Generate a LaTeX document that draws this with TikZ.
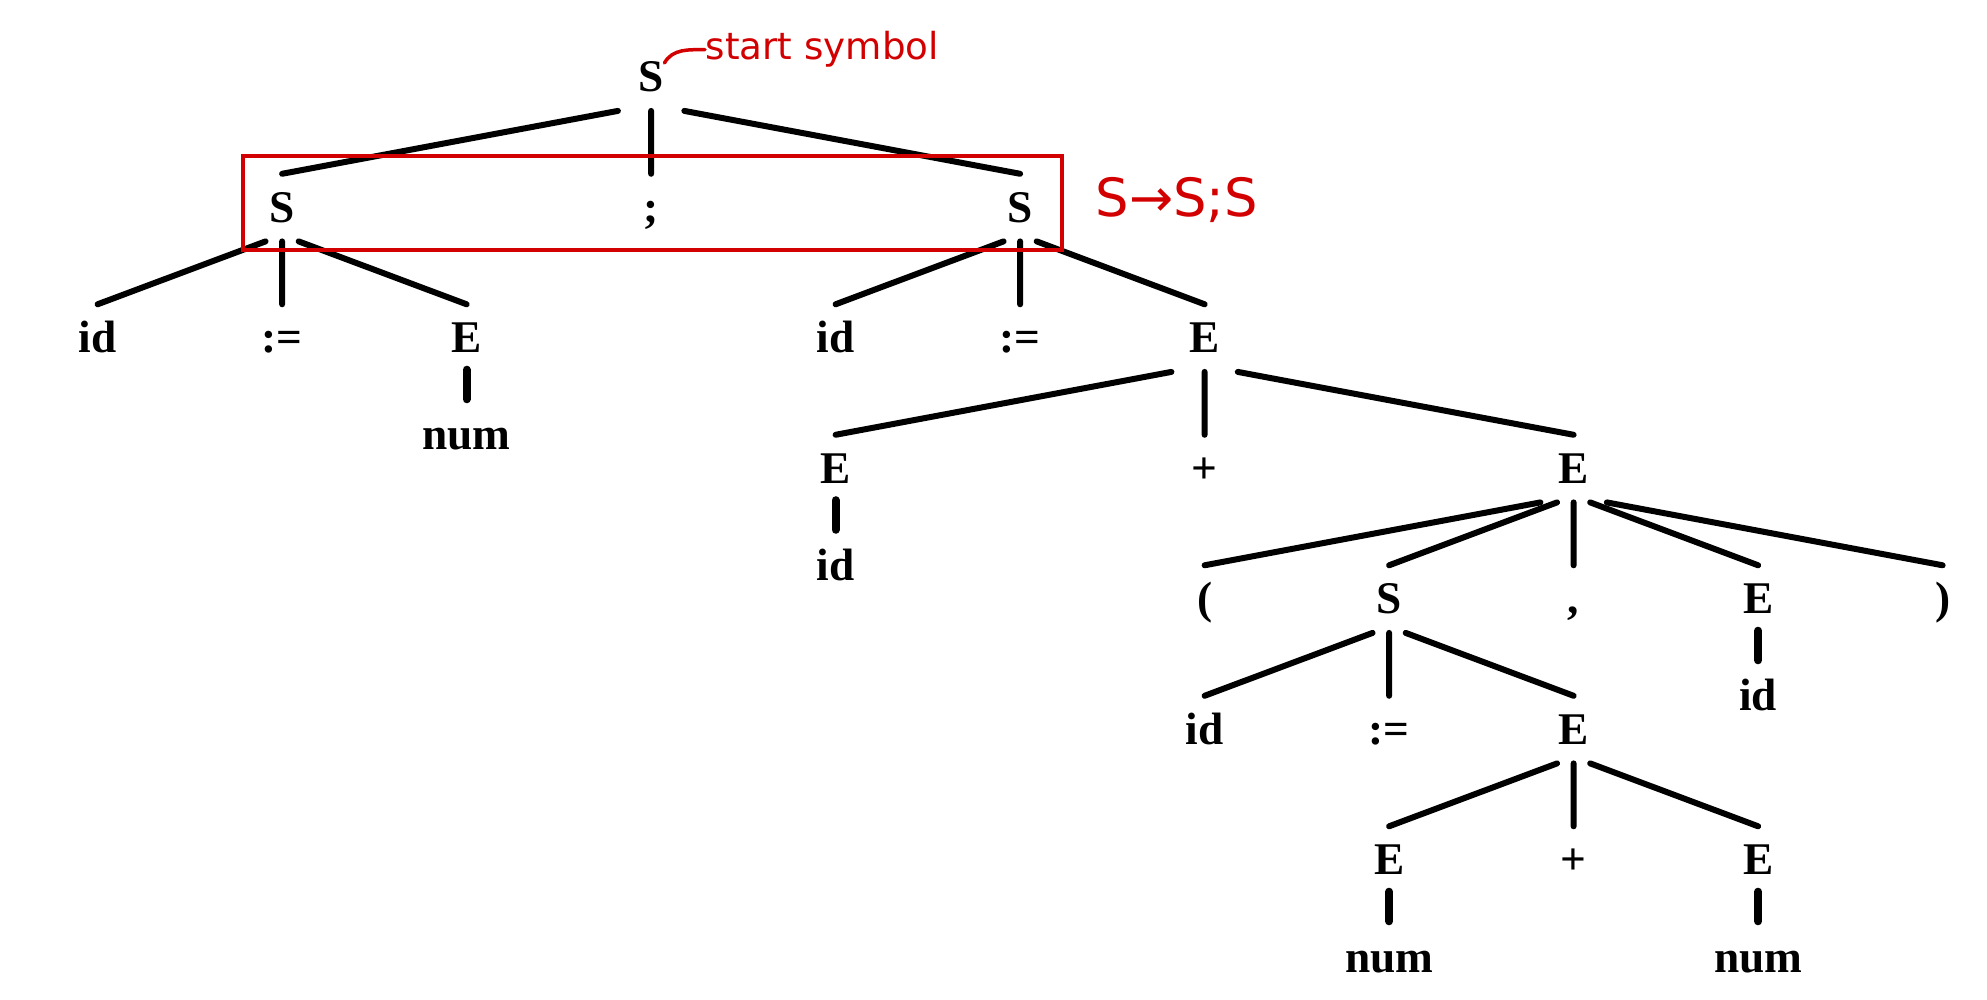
\documentclass[tikz,border=0pt]{standalone}
\usepackage{fontspec}
\setmainfont{Liberation Serif}
\newfontfamily\notefont{DejaVu Sans}
\usetikzlibrary{calc}
\definecolor{notered}{RGB}{210,0,0}

\tikzset{
  sym/.style={inner sep=0pt, anchor=base, text height=0.48cm, text depth=0.12cm,
    font=\bfseries\fontsize{12.9pt}{15pt}\selectfont},
  branch/.style={line width=0.06cm, line cap=round},
  unitbranch/.style={line width=0.08cm, line cap=round, shorten <=0.04cm, shorten >=0.02cm},
  note/.style={notered, line width=0.035cm, line cap=round},
}

\begin{document}
\begin{tikzpicture}
% Constants
\def\colSpacing{1.845} % Horizontal spacing between columns
\def\rowSpacing{1.305} % Vertical spacing between rows
\def\leftShift{0.976} % Shift of the first column
\def\topShift{0.92} % Baseline of the first row
\def\leafDrop{0.97} % Drop of a single child
\useasboundingbox (0,0) rectangle (19.87,-10);

% Symbols on the grid
\foreach \name/\col/\row/\txt in {
    s/3/0/S,
    s1/1/1/S, semi/3/1/{;}, s2/5/1/S,
    id1/0/2/id, asg1/1/2/{:=}, e1/2/2/E, id2/4/2/id, asg2/5/2/{:=}, e2/6/2/E,
    e3/4/3/E, plus1/6/3/{+}, e4/8/3/E,
    lpar/6/4/{(}, s3/7/4/S, comma/8/4/{,}, e5/9/4/E, rpar/10/4/{)},
    id4/6/5/id, asg3/7/5/{:=}, e6/8/5/E,
    e7/7/6/E, plus2/8/6/{+}, e8/9/6/E} {
    % Calculate the x and y positions
    \pgfmathsetmacro\x{\leftShift + \col*\colSpacing}
    \pgfmathsetmacro\y{-\topShift - \row*\rowSpacing}
    \node[sym] (\name) at (\x, \y) {\txt};
}

% Branches from parent to children
\foreach \parent/\child in {
    s/s1, s/semi, s/s2,
    s1/id1, s1/asg1, s1/e1,
    s2/id2, s2/asg2, s2/e2,
    e2/e3, e2/plus1, e2/e4,
    e4/lpar, e4/s3, e4/comma, e4/e5, e4/rpar,
    s3/id4, s3/asg3, s3/e6,
    e6/e7, e6/plus2, e6/e8} {
    \draw[branch] ($(\parent.south)!0.09!(\child.north)$) -- (\child.north);
}

% Single children right under their parent
\foreach \name/\parent/\txt in {num1/e1/num, id3/e3/id, id5/e5/id, num2/e7/num, num3/e8/num} {
    \node[sym] (\name) at ($(\parent.base)+(0,-\leafDrop)$) {\txt};
    \draw[unitbranch] (\parent.south) -- (\name.north);
}

% Red notes
\draw[note] (2.43,-1.56) rectangle (10.62,-2.50);
\node[notered, inner sep=0pt, font=\notefont\fontsize{15pt}{18pt}\selectfont] (rule) at (11.77,-2.0) {S→S;S};
\node[notered, anchor=base west, inner sep=0pt, font=\notefont\fontsize{10.6pt}{13pt}\selectfont] (startlbl) at (7.05,-0.60) {start symbol};
\draw[note] ($(s.base east)+(0,0.29)$) to[out=60, in=180] (startlbl.west);

\end{tikzpicture}
\end{document}
